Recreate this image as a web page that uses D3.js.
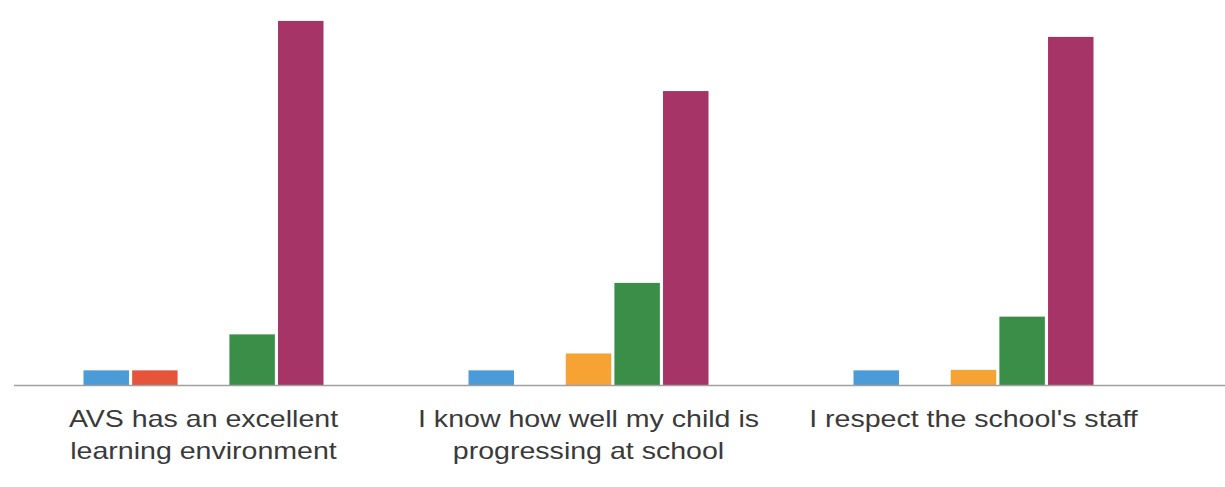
<!DOCTYPE html>
<html>
<head>
<meta charset="utf-8">
<script src="https://cdn.jsdelivr.net/npm/d3@7"></script>
<style>
  body { margin: 0; background: #fff; }
  .chart { width: 1225px; height: 487px; }
  .lbl { font-family: "Liberation Sans", Arial, sans-serif; font-size: 24px; fill: #3a3a3a; }
</style>
</head>
<body>
<div class="chart"></div>
<script>
// survey answers, percent of respondents per statement
const categories = ['AVS has an excellent learning environment',
                    'I know how well my child is progressing at school',
                    "I respect the school's staff"];
const labelLines = [['AVS has an excellent', 'learning environment'],
                    ['I know how well my child is', 'progressing at school'],
                    ["I respect the school's staff"]];
const series = ['Strongly disagree', 'Disagree', 'Neutral', 'Agree', 'Strongly agree'];
const stronglyDisagree = [3.3, 3.3, 3.3];
const disagree = [3.3, 0, 0];
const neutral = [0, 7.1, 3.4];
const agree = [11.4, 23.0, 15.4];
const stronglyAgree = [82.0, 66.2, 78.4];
const colors = ['#4a9bd8', '#e4553b', '#f7a334', '#3b8e48', '#a63466'];

const width = d3.select('.chart').node().clientWidth;
const height = d3.select('.chart').node().clientHeight;

let svg = d3.select('.chart')
  .append('svg')
  .attr('width', width)
  .attr('height', height);

const values = [stronglyDisagree, disagree, neutral, agree, stronglyAgree];

const x0 = d3.scaleBand()
  .domain(categories)
  .range([11, 1166]);

const x1 = d3.scaleBand()
  .domain(series)
  .range([x0.bandwidth() / 2 - 120, x0.bandwidth() / 2 + 120])
  .paddingInner(0.065);

const y = d3.scaleLinear()
  .domain([0, 100])
  .range([385, -59]);

const color = d3.scaleOrdinal().domain(series).range(colors);

const groups = svg.selectAll('g.cat')
  .data(categories)
  .enter()
  .append('g')
  .attr('class', 'cat')
  .attr('transform', d => 'translate(' + x0(d) + ',0)');

groups.selectAll('rect')
  .data((d, i) => series.map((s, j) => ({ s: s, v: values[j][i] })))
  .enter()
  .append('rect')
  .attr('x', d => x1(d.s))
  .attr('width', x1.bandwidth())
  .attr('y', d => y(d.v))
  .attr('height', d => y(0) - y(d.v))
  .attr('fill', d => color(d.s));

// baseline
svg.append('line')
  .attr('x1', 14)
  .attr('x2', width)
  .attr('y1', y(0) + 0.5)
  .attr('y2', y(0) + 0.5)
  .style('stroke', '#a0a0a0')
  .style('stroke-width', 1.5);

// category labels (source picture is stretched horizontally)
groups.each(function (d, i) {
  const g = d3.select(this);
  const cx = x0.bandwidth() / 2;
  labelLines[i].forEach((line, k) => {
    g.append('text')
      .attr('class', 'lbl')
      .attr('text-anchor', 'middle')
      .attr('transform', 'translate(' + cx + ',' + (427 + k * 32) + ') scale(1.19,1)')
      .text(line);
  });
});
</script>
</body>
</html>
